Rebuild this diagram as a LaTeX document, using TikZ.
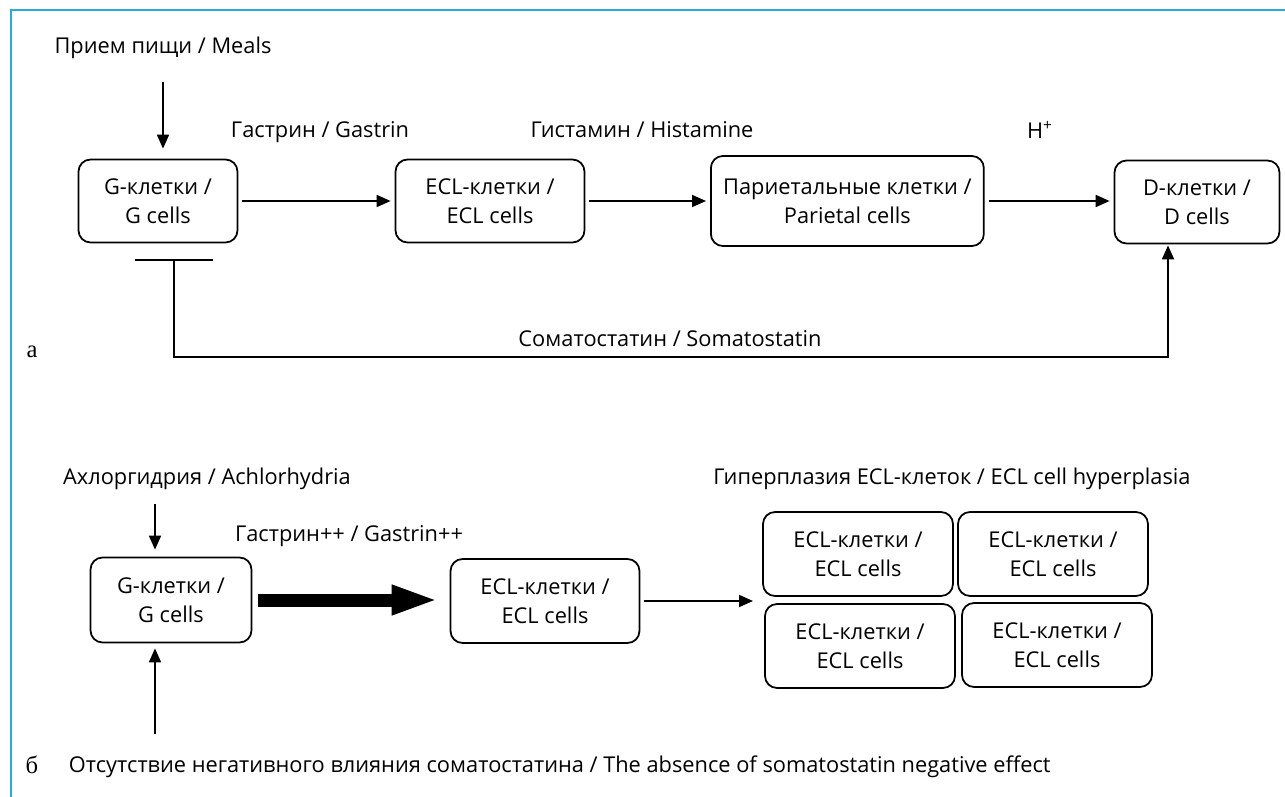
\documentclass[tikz,border=0pt]{standalone}
\usepackage{fontspec}
\setmainfont{Open Sans}
\newfontfamily\lblfont{Liberation Serif}
\usepackage{xcolor}
\definecolor{framecol}{HTML}{29ABE2}
\usetikzlibrary{arrows.meta}
\usetikzlibrary{positioning}
\usetikzlibrary{calc}

\begin{document}
\begin{tikzpicture}[x=0.02cm,y=-0.02cm,line width=1pt,
    font=\fontsize{12.4}{16.5}\selectfont,
    cell/.style={draw,rounded corners=0.24cm,align=center,minimum width=3.18cm,minimum height=1.66cm,inner sep=2pt},
    flow/.style={-{Triangle[length=2.8mm,width=2.4mm]},shorten <=0.08cm,shorten >=0.08cm},
    lbl/.style={font=\lblfont\fontsize{14}{16}\selectfont}]
  \useasboundingbox (0,0) rectangle (1285,797);
  \draw[framecol] (1285,10) -- (11,10) -- (11,797);

  % part a
  \node (meals) at (163,48) {Прием пищи / Meals};
  \node[cell] (g1) at (158,201) {G-клетки /\\G cells};
  \node[cell,minimum width=3.78cm] (ecl1) at (490,201) {ECL-клетки /\\ECL cells};
  \node[cell,anchor=west,inner xsep=7pt,minimum height=1.8cm] (par) at (710,201) {Париетальные клетки /\\Parietal cells};
  \node[cell,minimum width=3.3cm] (d) at (1197,202) {D-клетки /\\D cells};
  \node (gas) at (320,132) {Гастрин / Gastrin};
  \node (his) at (642,130) {Гистамин / Histamine};
  \node (hplus) at (1040,130) {H\textsuperscript{+}};
  \node (som) at (670,339) {Соматостатин / Somatostatin};
  \node[lbl] (pa) at (32,352) {а};
  \coordinate (m0) at (163,78);
  \coordinate (inh) at (174,259);
  \coordinate (sbase) at (670,357);
  \draw[flow,shorten >=0.2cm] (m0) -- (m0 |- g1.north);
  \draw[flow] (g1) -- (ecl1);
  \draw[flow] (ecl1) -- (par);
  \draw[flow] (par.east) -- (par.east -| d.west);
  \draw[{Bar[width=1.58cm]}-{Triangle[length=2.8mm,width=2.4mm]},shorten >=0.02cm]
    (inh) |- (sbase) -| ([xshift=-0.58cm]d.south);

  % part b
  \node (achl) at (207,479) {Ахлоргидрия / Achlorhydria};
  \node[cell,minimum width=3.22cm,minimum height=1.7cm] (g2) at (171,600) {G-клетки /\\G cells};
  \node (gas2) at (349,536) {Гастрин++ / Gastrin++};
  \node[cell,minimum width=3.78cm,minimum height=1.68cm] (ecl2) at (545,601) {ECL-клетки /\\ECL cells};
  \node (hyp) at (952,479) {Гиперплазия ECL-клеток / ECL cell hyperplasia};
  \foreach \n/\x/\y in {h1/858/554,h2/1053/554,h3/860/646,h4/1057/645}
    \node[cell,minimum width=3.8cm,minimum height=1.68cm] (\n) at (\x,\y) {ECL-клетки /\\ECL cells};
  \node[lbl] (pb) at (32,765) {б};
  \node[anchor=west,inner sep=0pt] (absn) at (68,767) {Отсутствие негативного влияния соматостатина / The absence of somatostatin negative effect};
  \coordinate (a0) at (155,500);
  \coordinate (a1) at (155,738);
  \coordinate (hin) at (757,601);
  \draw[flow,shorten >=0.14cm] (a0) -- (a0 |- g2.north);
  \draw[flow,shorten >=0.1cm] (a1) -- (a1 |- g2.south);
  \draw[line width=2.6mm,-{Triangle[length=9.4mm,width=5.4mm]},shorten <=0.12cm,shorten >=0.22cm]
    (g2.east) -- (g2.east -| ecl2.west);
  \draw[flow] (ecl2.east) -- (hin);
\end{tikzpicture}
\end{document}
